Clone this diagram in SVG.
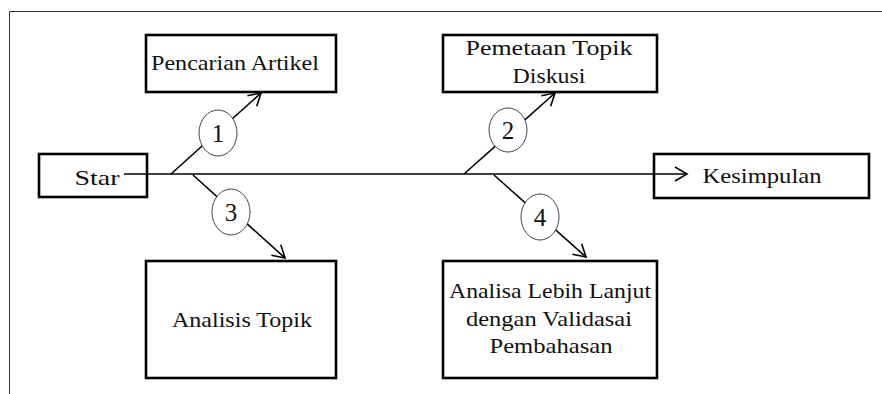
<svg xmlns="http://www.w3.org/2000/svg" width="882" height="394" viewBox="0 0 882 394">
<style>
.box{fill:#fff;stroke:#000;stroke-width:2.6}
.t{font-family:"Liberation Serif","Times New Roman",serif;font-size:21px;fill:#111;text-anchor:middle}
.n{font-family:"Liberation Serif","Times New Roman",serif;font-size:25px;fill:#111;text-anchor:middle}
.ln{stroke:#000;stroke-width:1.6;fill:none}
.c{fill:#fff;stroke:#444;stroke-width:1}
</style>
<defs>
<marker id="ah" markerWidth="16" markerHeight="16" refX="13" refY="8" orient="auto" markerUnits="userSpaceOnUse">
<path d="M1,1 L13,8 L1,15" fill="none" stroke="#000" stroke-width="1.6"/>
</marker>
</defs>
<rect width="882" height="394" fill="#fff"/>
<path d="M9.5,394 V11.5 H882" fill="none" stroke="#333" stroke-width="1"/>
<g id="star"><rect class="box" x="39" y="154" width="108" height="43"/><text class="t" x="97" y="185" textLength="45" lengthAdjust="spacingAndGlyphs">Star</text></g>
<g id="kesimpulan"><rect class="box" x="654" y="154" width="215" height="44"/><text class="t" x="762" y="183" textLength="119" lengthAdjust="spacingAndGlyphs">Kesimpulan</text></g>
<g id="pencarian"><rect class="box" x="146" y="35" width="190" height="57"/><text class="t" x="235" y="70" textLength="168" lengthAdjust="spacingAndGlyphs">Pencarian Artikel</text></g>
<g id="pemetaan"><rect class="box" x="443" y="35" width="214" height="57"/><text class="t" x="549" y="55" textLength="167" lengthAdjust="spacingAndGlyphs">Pemetaan Topik</text><text class="t" x="549" y="83" textLength="73" lengthAdjust="spacingAndGlyphs">Diskusi</text></g>
<g id="analisis"><rect class="box" x="146" y="261" width="190" height="117"/><text class="t" x="242" y="327" textLength="140" lengthAdjust="spacingAndGlyphs">Analisis Topik</text></g>
<g id="analisa"><rect class="box" x="443" y="261" width="214" height="117"/><text class="t" x="550" y="298" textLength="202" lengthAdjust="spacingAndGlyphs">Analisa Lebih Lanjut</text><text class="t" x="549" y="326" textLength="166" lengthAdjust="spacingAndGlyphs">dengan Validasai</text><text class="t" x="551" y="353" textLength="123" lengthAdjust="spacingAndGlyphs">Pembahasan</text></g>
<g id="connectors">
<line class="ln" x1="124" y1="174" x2="687" y2="174" marker-end="url(#ah)"/>
<line class="ln" x1="171" y1="174" x2="261" y2="93" marker-end="url(#ah)"/>
<line class="ln" x1="464" y1="174" x2="555" y2="93" marker-end="url(#ah)"/>
<line class="ln" x1="193" y1="175" x2="285" y2="258" marker-end="url(#ah)"/>
<line class="ln" x1="494" y1="175" x2="586" y2="257" marker-end="url(#ah)"/>
</g>
<g id="label1"><ellipse class="c" cx="218" cy="133" rx="19" ry="23"/><text class="n" x="218" y="142">1</text></g>
<g id="label2"><ellipse class="c" cx="508" cy="130" rx="19" ry="22"/><text class="n" x="508" y="139">2</text></g>
<g id="label3"><ellipse class="c" cx="231" cy="212" rx="19" ry="23"/><text class="n" x="231" y="221">3</text></g>
<g id="label4"><ellipse class="c" cx="540" cy="217" rx="19" ry="23"/><text class="n" x="540" y="226">4</text></g>
</svg>
